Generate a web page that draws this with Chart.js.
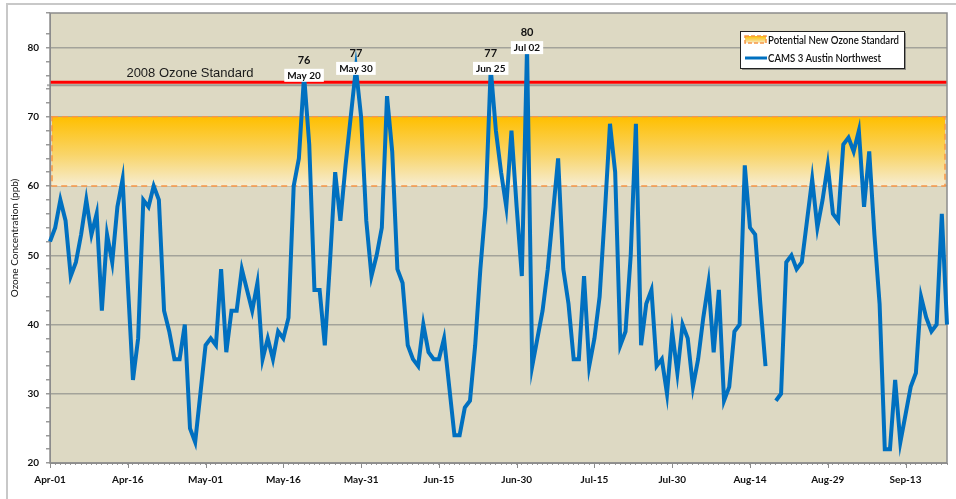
<!DOCTYPE html>
<html><head><meta charset="utf-8">
<script src="https://cdn.jsdelivr.net/npm/chart.js@4.4.1/dist/chart.umd.min.js"></script>
<style>
html,body{margin:0;padding:0;background:#fff;overflow:hidden}
#wrap{position:relative;width:956px;height:499px}
#frame{position:absolute;left:6px;top:3px;right:-4px;bottom:-4px;border-top:2px solid #c8c8c8;border-left:2px solid #c8c8c8}
canvas{position:absolute;left:0;top:0}
</style></head><body>
<div id="wrap"><div id="frame"></div><canvas id="c" width="956" height="499"></canvas></div>
<script>
// ---- data (ppb, daily max 8-hr ozone, Apr 1 .. Sep 21) ----
const ozone = [
 52,54,58,55,47,49,53,58,53,56, 42,53,49,57,61,46,32,38,58,57,
 60,58,42,39,35,35,40,25,23,30, 37,38,37,48,36,42,42,48,45,42,
 46,35,38,35,39,38,41,60,64,76, 66,45,45,37,49,62,55,63,70,77,
 70,55,47,50,54,73,65,48,46,37, 35,34,40,36,35,35,38,31,24,24,
 28,29,37,48,57,77,68,62,57,68, 57,47,80,34,38,42,48,56,64,48,
 43,35,35,47,34,38,44,56,69,62, 37,39,50,69,37,43,45,34,35,30,
 39,33,40,38,31,35,41,46,36,45, 29,31,39,40,63,54,53,43,34,null,
 29,30,49,50,48,49,55,61,54,58, 63,56,55,66,67,65,68,57,65,53,
 43,22,22,32,23,27,31,33,44,41, 39,40,56,40
];
const monthNames = ['Jan','Feb','Mar','Apr','May','Jun','Jul','Aug','Sep','Oct','Nov','Dec'];
const categories = [];
(function(){ const d = new Date(2014,3,1); for (let i=0;i<ozone.length;i++){ categories.push(monthNames[d.getMonth()]+'-'+String(d.getDate()).padStart(2,'0')); d.setDate(d.getDate()+1);} })();
const xTickLabels = ['Apr-01','Apr-16','May-01','May-16','May-31','Jun-15','Jun-30','Jul-15','Jul-30','Aug-14','Aug-29','Sep-13'];
const yTickLabels = [20,30,40,50,60,70,80];
const bandRange = [60,70];
const standard2008 = 75;
const peakIdx = [49,59,85,92];
const peakDates = ['May 20','May 30','Jun 25','Jul 02'];
const seriesName = 'CAMS 3 Austin Northwest';
const bandName = 'Potential New Ozone Standard';
const standardName = '2008 Ozone Standard';
const yTitle = 'Ozone Concentration (ppb)';

const BLUE = '#0070C0';
const FONT = 'Lato, "Liberation Sans", sans-serif';

function bandGradient(ctx, top, bottom){
  const g = ctx.createLinearGradient(0, top, 0, bottom);
  g.addColorStop(0, '#FFBF00');
  g.addColorStop(0.55, '#F9D56A');
  g.addColorStop(1, '#F6EDD2');
  return g;
}
function squeezedText(ctx, text, x, y, targetW){
  const w = ctx.measureText(text).width;
  const sx = Math.min(1, targetW / w);
  ctx.save(); ctx.translate(x, y); ctx.scale(sx, 1); ctx.fillText(text, 0, 0); ctx.restore();
}

const decor = {
  id: 'decor',
  beforeDraw(chart){
    const {ctx, chartArea:a} = chart;
    ctx.save();
    ctx.fillStyle = '#DDD9C3';
    ctx.fillRect(a.left, a.top, a.right-a.left, a.bottom-a.top);
    ctx.restore();
  },
  beforeDatasetsDraw(chart){
    const {ctx, chartArea:a, scales:{x,y}} = chart;
    ctx.save();
    const yt = y.getPixelForValue(bandRange[1]), yb = y.getPixelForValue(bandRange[0]);
    const l = a.left+2, r = a.right-2;
    ctx.fillStyle = bandGradient(ctx, yt, yb);
    ctx.fillRect(l, yt, r-l, yb-yt);
    ctx.setLineDash([6,4]);
    ctx.strokeStyle = '#F79646';
    ctx.lineWidth = 1.5;
    ctx.strokeRect(l, yt, r-l, yb-yt);
    ctx.setLineDash([]);
    const ys = y.getPixelForValue(standard2008);
    ctx.strokeStyle = 'rgba(110,110,110,0.55)';
    ctx.lineWidth = 2;
    ctx.beginPath(); ctx.moveTo(a.left-3, ys+3); ctx.lineTo(a.right, ys+3); ctx.stroke();
    ctx.strokeStyle = '#FF0000';
    ctx.lineWidth = 3;
    ctx.beginPath(); ctx.moveTo(a.left, ys); ctx.lineTo(a.right, ys); ctx.stroke();
    ctx.fillStyle = '#1a1a1a';
    ctx.font = '13px "Liberation Sans", Arial, sans-serif';
    ctx.textAlign = 'center'; ctx.textBaseline = 'middle';
    ctx.fillText(standardName, a.left + 140, ys - 9);
    ctx.strokeStyle = '#8c8c8c';
    ctx.lineWidth = 1.5;
    ctx.strokeRect(a.left, a.top, a.right-a.left, a.bottom-a.top);
    ctx.strokeStyle = '#8c8c8c'; ctx.lineWidth = 1;
    categories.forEach((c,i)=>{
      if (xTickLabels.includes(c)){
        const px = Math.round(x.getPixelForValue(i))+0.5;
        ctx.beginPath(); ctx.moveTo(px, a.bottom); ctx.lineTo(px, a.bottom+5); ctx.stroke();
      }
    });
    ctx.restore();
  },
  afterDatasetsDraw(chart){
    const {ctx, scales:{x,y}} = chart;
    ctx.save();
    ctx.textAlign = 'center'; ctx.textBaseline = 'middle';
    peakIdx.forEach((idx,k)=>{
      const px = x.getPixelForValue(idx), py = y.getPixelForValue(ozone[idx]);
      ctx.font = 'bold 10px ' + FONT;
      const w = ctx.measureText(peakDates[k]).width;
      ctx.fillStyle = '#ffffff';
      ctx.fillRect(px - w/2 - 3, py - 6.5, w + 6, 13);
      ctx.fillStyle = '#111';
      ctx.fillText(peakDates[k], px, py);
      ctx.font = 'bold 11px ' + FONT;
      ctx.fillText(String(ozone[idx]), px, py - 15);
    });
    // legend
    const lx = 740, ly = 31, lw = 164, lh = 37;
    ctx.fillStyle = 'rgba(90,90,90,0.6)';
    ctx.fillRect(lx+2, ly+2, lw, lh);
    ctx.fillStyle = '#fff';
    ctx.fillRect(lx, ly, lw, lh);
    ctx.strokeStyle = '#222'; ctx.lineWidth = 1;
    ctx.strokeRect(lx+0.5, ly+0.5, lw, lh);
    ctx.fillStyle = bandGradient(ctx, 36, 43);
    ctx.fillRect(745, 36, 21, 7);
    ctx.setLineDash([4,2]); ctx.strokeStyle = '#F79646'; ctx.lineWidth = 1.5;
    ctx.strokeRect(745, 36, 21, 7); ctx.setLineDash([]);
    ctx.strokeStyle = BLUE; ctx.lineWidth = 3;
    ctx.beginPath(); ctx.moveTo(745, 58); ctx.lineTo(767, 58); ctx.stroke();
    ctx.fillStyle = '#111'; ctx.textAlign = 'left';
    ctx.font = '600 11.5px ' + FONT;
    const ratio = 131 / ctx.measureText(bandName).width;
    squeezedText(ctx, bandName, 768, 40, 131);
    squeezedText(ctx, seriesName, 768, 58.5, ctx.measureText(seriesName).width * ratio);
    ctx.restore();
  }
};

new Chart(document.getElementById('c'), {
  type: 'line',
  data: {
    labels: categories,
    datasets: [{
      label: seriesName,
      data: ozone,
      borderColor: BLUE,
      borderWidth: 4,
      pointRadius: 0,
      tension: 0,
      spanGaps: false,
      fill: false
    }]
  },
  options: {
    responsive: false,
    animation: false,
    devicePixelRatio: 1,
    layout: { padding: { top: 13, right: 4, left: 0, bottom: 0 } },
    plugins: { legend: { display: false }, tooltip: { enabled: false } },
    scales: {
      x: {
        type: 'category',
        offset: false,
        afterFit(s){ s.height = 36; },
        border: { display: true, color: '#8c8c8c', width: 1 },
        grid: { drawOnChartArea: false, drawTicks: true, tickLength: 2, tickColor: '#9a9a9a', offset: false },
        ticks: {
          autoSkip: false, maxRotation: 0, minRotation: 0, padding: 9,
          color: '#111', font: { family: FONT, size: 10, weight: 'bold' },
          callback(v){ const lab = this.getLabelForValue(v); return xTickLabels.includes(lab) ? lab : ''; }
        }
      },
      y: {
        min: 20, max: 85,
        afterFit(s){ s.width = 50; },
        border: { display: true, color: '#8c8c8c', width: 1 },
        grid: {
          color: (c)=> (c.tick && yTickLabels.includes(Math.round(c.tick.value*1000)/1000)) ? '#a3a39a' : 'rgba(0,0,0,0)',
          lineWidth: 1.5,
          tickColor: '#9a9a9a', tickLength: 4
        },
        ticks: {
          autoSkip: false, stepSize: 2, padding: 7,
          color: '#111', font: { family: FONT, size: 10, weight: 'bold' },
          callback(v){ const r = Math.round(v*1000)/1000; return yTickLabels.includes(r) ? String(r) : ''; }
        },
        title: {
          display: true, text: yTitle, color: '#111',
          font: { family: FONT, size: 10 }, padding: { top: 9, bottom: 0 }
        }
      }
    }
  },
  plugins: [decor]
});
</script>
</body></html>
